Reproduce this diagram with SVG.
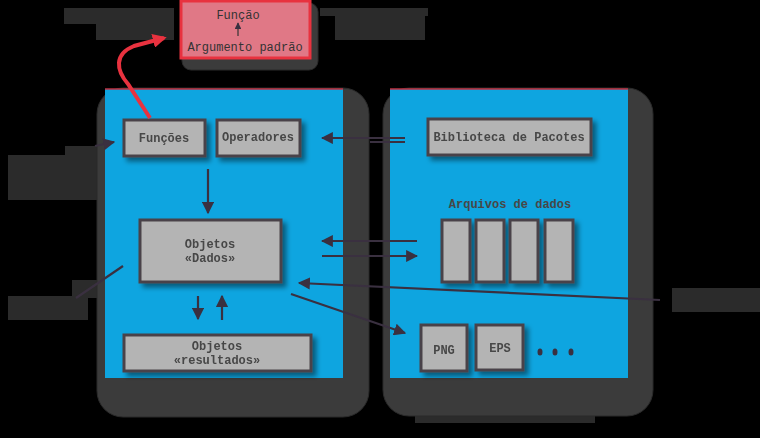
<svg xmlns="http://www.w3.org/2000/svg" width="760" height="438" viewBox="0 0 760 438">
<defs>
<style>
.panel{fill:#3b3b3b;stroke:#2a2a2a;stroke-width:1}
.blue{fill:#0ea5e0}
.box{fill:#b4b4b4;stroke:#4a4248;stroke-width:3}
.t{font-family:"Liberation Mono","DejaVu Sans Mono",monospace;font-size:12px;font-weight:bold;fill:#474747;text-anchor:middle}
.lbl{fill:#2b2b2b}
.c{stroke:#3a3040;stroke-width:2.2;fill:none}
</style>
<filter id="sh" x="-20%" y="-20%" width="150%" height="150%">
<feGaussianBlur in="SourceAlpha" stdDeviation="2.5"/>
<feOffset dx="4" dy="4" result="b"/>
<feFlood flood-color="#000" flood-opacity="0.45"/>
<feComposite in2="b" operator="in"/>
<feMerge><feMergeNode/><feMergeNode in="SourceGraphic"/></feMerge>
</filter>
<marker id="ah" viewBox="0 0 10 10" refX="9" refY="5" markerWidth="5.5" markerHeight="5.5" orient="auto"><path d="M0,0 L10,5 L0,10 z" fill="#3a3040"/></marker>
<marker id="rh" viewBox="0 0 10 10" refX="8" refY="5" markerWidth="3.5" markerHeight="3.5" orient="auto"><path d="M0,0 L10,5 L0,10 z" fill="#e8323f"/></marker>
</defs>
<rect width="760" height="438" fill="#000"/>

<g id="labels">
<rect class="lbl" x="64" y="8" width="110" height="16"/>
<rect class="lbl" x="96" y="24" width="78" height="16"/>
<rect class="lbl" x="320" y="8" width="108" height="8"/>
<rect class="lbl" x="335" y="16" width="90" height="24"/>
<rect class="lbl" x="65" y="146" width="34" height="10"/>
<rect class="lbl" x="8" y="155" width="91" height="45"/>
<rect class="lbl" x="72" y="280" width="28" height="18"/>
<rect class="lbl" x="8" y="296" width="80" height="24"/>
<rect class="lbl" x="672" y="288" width="88" height="24"/>
<rect class="lbl" x="120" y="407" width="190" height="9"/>
<rect class="lbl" x="415" y="407" width="180" height="16"/>
</g>

<g id="top">
<rect x="182" y="3" width="136" height="67" rx="9" fill="#3b3b3b" stroke="#2a2a2a"/>
<rect x="181" y="1" width="129" height="57" fill="#e07886" stroke="#e8323f" stroke-width="3"/>
<text class="t" x="238" y="19" style="font-weight:normal;fill:#333">Função</text>
<text class="t" x="245" y="51" style="font-weight:normal;fill:#333">Argumento padrão</text>
</g>

<g id="left-panel">
<rect class="panel" x="97" y="88" width="272" height="329" rx="26"/>
<rect class="blue" x="105" y="89" width="238" height="289"/>
<line x1="105" y1="89" x2="343" y2="89" stroke="#c03040" stroke-width="1.5"/>
</g>
<g id="right-panel">
<rect class="panel" x="383" y="88" width="270" height="328" rx="26"/>
<rect class="blue" x="390" y="89" width="238" height="289"/>
<line x1="390" y1="89" x2="628" y2="89" stroke="#c03040" stroke-width="1.5"/>
</g>

<g id="funcoes" filter="url(#sh)"><rect class="box" x="124" y="120" width="81" height="36"/><text class="t" x="164" y="142">Funções</text></g>
<g id="operadores" filter="url(#sh)"><rect class="box" x="217" y="120" width="83" height="36"/><text class="t" x="258" y="141">Operadores</text></g>
<g id="objetos-dados" filter="url(#sh)"><rect class="box" x="140" y="220" width="141" height="62"/><text class="t" x="210" y="248">Objetos</text><text class="t" x="210" y="262">«Dados»</text></g>
<g id="objetos-resultados" filter="url(#sh)"><rect class="box" x="124" y="335" width="187" height="36"/><text class="t" x="217" y="350">Objetos</text><text class="t" x="217" y="364">«resultados»</text></g>
<g id="biblioteca" filter="url(#sh)"><rect class="box" x="428" y="119" width="163" height="36"/><text class="t" x="509" y="141">Biblioteca de Pacotes</text></g>
<g id="arquivos">
<text class="t" x="510" y="208">Arquivos de dados</text>
<g filter="url(#sh)">
<rect class="box" x="442" y="220" width="28" height="62"/>
<rect class="box" x="476" y="220" width="28" height="62"/>
<rect class="box" x="510" y="220" width="28" height="62"/>
<rect class="box" x="545" y="220" width="28" height="62"/>
</g>
</g>
<g id="png" filter="url(#sh)"><rect class="box" x="421" y="325" width="46" height="46"/><text class="t" x="444" y="354">PNG</text></g>
<g id="eps" filter="url(#sh)"><rect class="box" x="476" y="325" width="47" height="45"/><text class="t" x="500" y="352">EPS</text></g>
<g id="dots" fill="#3a3040">
<ellipse cx="540" cy="352" rx="2.5" ry="3.5"/>
<ellipse cx="555" cy="352" rx="2.5" ry="3.5"/>
<ellipse cx="571" cy="352" rx="2.5" ry="3.5"/>
</g>

<g id="connectors">
<path d="M150,118 L128,84 C116,70 114,54 134,46 L164,38" stroke="#e8323f" stroke-width="4" fill="none" marker-end="url(#rh)"/>
<line x1="238" y1="36" x2="238" y2="23" stroke="#333" stroke-width="1.2" marker-end="url(#ah)"/>
<line class="c" x1="208" y1="169" x2="208" y2="213" marker-end="url(#ah)"/>
<line class="c" x1="405" y1="138" x2="322" y2="138" marker-end="url(#ah)"/>
<line class="c" x1="370" y1="142" x2="405" y2="142"/>
<line class="c" x1="417" y1="241" x2="322" y2="241" marker-end="url(#ah)"/>
<line class="c" x1="322" y1="256" x2="417" y2="256" marker-end="url(#ah)"/>
<line class="c" x1="660" y1="300" x2="299" y2="283" marker-end="url(#ah)"/>
<line class="c" x1="291" y1="294" x2="405" y2="333" marker-end="url(#ah)"/>
<line class="c" x1="198" y1="296" x2="198" y2="319" marker-end="url(#ah)"/>
<line class="c" x1="222" y1="320" x2="222" y2="296" marker-end="url(#ah)"/>
<line class="c" x1="95" y1="146" x2="114" y2="142" marker-end="url(#ah)"/>
<line class="c" x1="123" y1="266" x2="76" y2="298"/>
</g>
</svg>
